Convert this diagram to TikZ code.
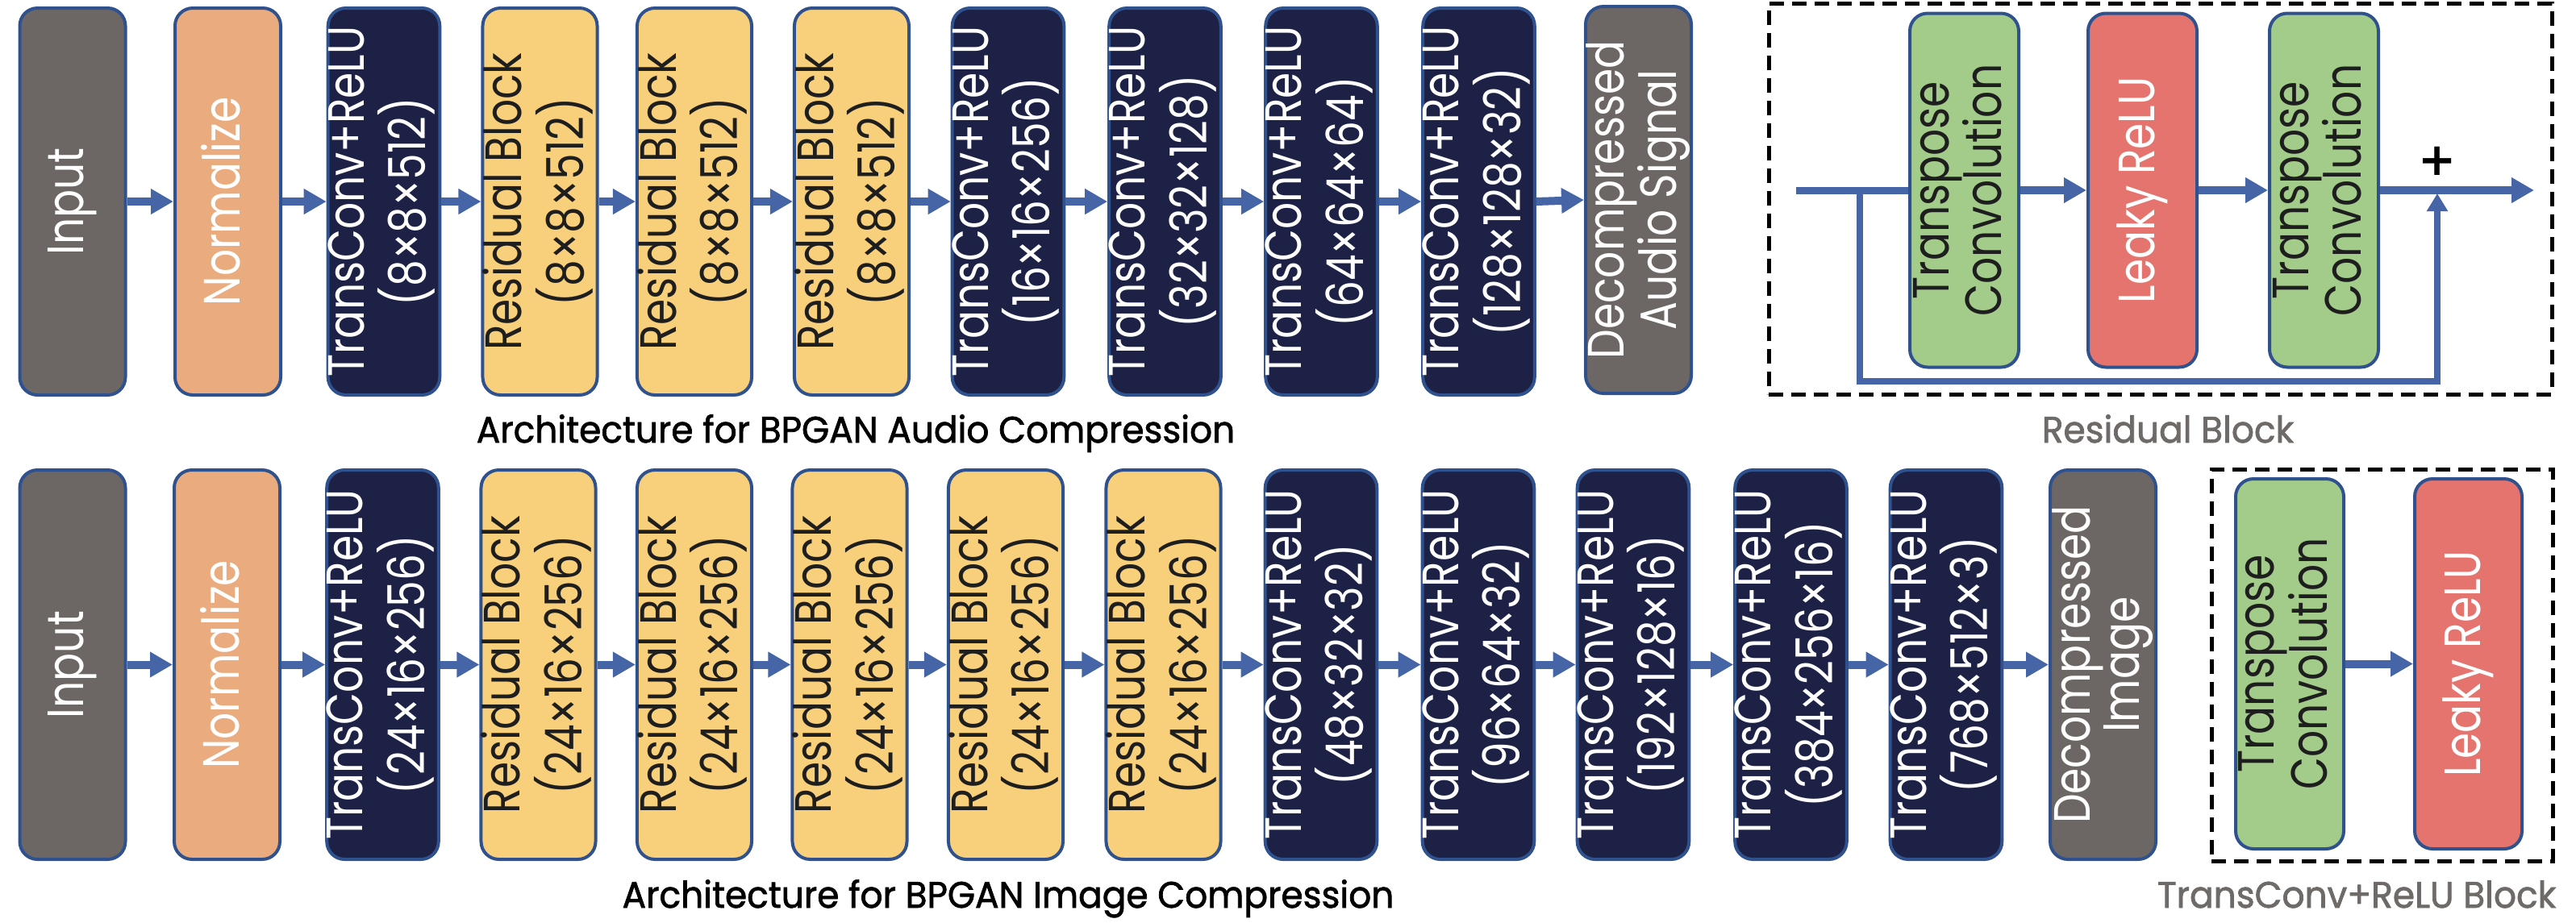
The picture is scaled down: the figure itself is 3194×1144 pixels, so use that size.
\documentclass[tikz,border=0pt]{standalone}
\usepackage{fontspec}
\usepackage{graphicx}
\usetikzlibrary{arrows.meta}
\newfontfamily\boxfont[FakeStretch=0.82]{Poppins}
\newfontfamily\capfont[FakeBold=1.6, FakeStretch=0.96]{Poppins}
\newfontfamily\plusfont{DejaVu Sans}
\definecolor{cgray}{HTML}{6C6764}
\definecolor{cpeach}{HTML}{EAAC7E}
\definecolor{cnavy}{HTML}{1D2146}
\definecolor{cyellow}{HTML}{F8D07B}
\definecolor{cgreen}{HTML}{A3CB89}
\definecolor{cred}{HTML}{E5746E}
\definecolor{cborder}{HTML}{2F528F}
\definecolor{carrow}{HTML}{4565A6}
\definecolor{ctext}{HTML}{1E1E1E}
\definecolor{clab}{HTML}{6E6A68}
\newcommand{\vtxt}[1]{\rotatebox{90}{\boxfont\fontsize{18}{16.5}\selectfont\begin{tabular}{@{}c@{}}#1\end{tabular}}}
\tikzset{
  blk/.style={draw=cborder, line width=0.4mm, rounded corners=2.2mm, minimum width=13.1mm, minimum height=48mm, inner sep=0pt},
  blkb/.style={blk, minimum height=48.3mm},
  inp/.style={fill=cgray, text=white},
  nrm/.style={fill=cpeach, text=white},
  tcv/.style={fill=cnavy, text=white},
  rsd/.style={fill=cyellow, text=ctext},
  grn/.style={fill=cgreen, text=ctext, minimum width=13.5mm},
  rdb/.style={fill=cred, text=white, minimum width=13.5mm},
  arr/.style={draw=carrow, line width=1mm, -{Triangle[length=2.8mm,width=3mm]}},
  rline/.style={draw=carrow, line width=0.9mm},
  skiparr/.style={draw=carrow, line width=0.8mm, -{Triangle[length=2.2mm,width=2.5mm]}},
  dashbox/.style={draw=black, line width=0.5mm, dash pattern=on 1.8mm off 1mm, inner sep=0pt},
  capt/.style={font={\capfont\fontsize{13}{15}\selectfont}, text=black, inner sep=0pt},
  glab/.style={font={\capfont\fontsize{13}{15}\selectfont}, text=clab, inner sep=0pt}
}
\begin{document}
\begin{tikzpicture}[x=0.1mm, y=-0.1mm]
\useasboundingbox (0,0) rectangle (3194,1144);
% ---------- top row ----------
\node[blk,inp] (a1) at (90,250) {\vtxt{Input}};
\node[blk,nrm] (a2) at (282.5,250) {\vtxt{Normalize}};
\node[blk,tcv] (a3) at (476,250) {\vtxt{TransConv+ReLU\\(8×8×512)}};
\node[blk,rsd] (a4) at (669.5,250) {\vtxt{Residual Block\\(8×8×512)}};
\node[blk,rsd] (a5) at (861,250) {\vtxt{Residual Block\\(8×8×512)}};
\node[blk,rsd] (a6) at (1056,250) {\vtxt{Residual Block\\(8×8×512)}};
\node[blk,tcv] (a7) at (1250,250) {\vtxt{TransConv+ReLU\\(16×16×256)}};
\node[blk,tcv] (a8) at (1444.5,250) {\vtxt{TransConv+ReLU\\(32×32×128)}};
\node[blk,tcv] (a9) at (1638.5,250) {\vtxt{TransConv+ReLU\\(64×64×64)}};
\node[blk,tcv] (a10) at (1833.5,250) {\vtxt{TransConv+ReLU\\(128×128×32)}};
\node[blk,inp] (a11) at (2031.5,248) {\vtxt{Decompressed\\Audio Signal}};
\foreach \i [evaluate=\i as \j using int(\i+1)] in {1,...,10}
  \draw[arr] (a\i.east) -- (a\j.west);
\node[capt, anchor=base] (cap1) at (1061,549) {Architecture for BPGAN Audio Compression};
% ---------- residual block panel ----------
\node[dashbox, minimum width=97.1mm, minimum height=48.5mm] (rpanel) at (2678.5,246.5) {};
\node[blk,grn, minimum height=43.9mm] (g1) at (2435.5,236) {\vtxt{Transpose\\Convolution}};
\node[blk,rdb, minimum height=43.9mm] (r1) at (2656.5,236) {\vtxt{Leaky ReLU}};
\node[blk,grn, minimum height=43.9mm] (g2) at (2881.5,236) {\vtxt{Transpose\\Convolution}};
\coordinate (rin) at (2227,236);
\coordinate (rsplit) at (2306,236);
\coordinate (rbot) at (3022,473);
\coordinate (rjoin) at (3022,240);
\coordinate (rout) at (3142,236);
\draw[rline] (rin) -- (g1.west);
\draw[arr] (g1.east) -- (r1.west);
\draw[arr] (r1.east) -- (g2.west);
\draw[arr] (g2.east) -- (rout);
\draw[skiparr] (rsplit) |- (rbot) -- (rjoin);
\node[font={\plusfont\bfseries\fontsize{16}{16}\selectfont}, inner sep=0pt] (plus) at (3022,200) {+};
\node[glab, anchor=base] (rlab) at (2688,549) {Residual Block};
% ---------- bottom row ----------
\node[blkb,inp] (b1) at (90,824.5) {\vtxt{Input}};
\node[blkb,nrm] (b2) at (281.5,824.5) {\vtxt{Normalize}};
\node[blkb,tcv] (b3) at (474.5,824.5) {\vtxt{TransConv+ReLU\\(24×16×256)}};
\node[blkb,rsd] (b4) at (667.5,824.5) {\vtxt{Residual Block\\(24×16×256)}};
\node[blkb,rsd] (b5) at (861,824.5) {\vtxt{Residual Block\\(24×16×256)}};
\node[blkb,rsd] (b6) at (1053.5,824.5) {\vtxt{Residual Block\\(24×16×256)}};
\node[blkb,rsd] (b7) at (1247,824.5) {\vtxt{Residual Block\\(24×16×256)}};
\node[blkb,rsd] (b8) at (1442.5,824.5) {\vtxt{Residual Block\\(24×16×256)}};
\node[blkb,tcv] (b9) at (1638,824.5) {\vtxt{TransConv+ReLU\\(48×32×32)}};
\node[blkb,tcv] (b10) at (1833,824.5) {\vtxt{TransConv+ReLU\\(96×64×32)}};
\node[blkb,tcv] (b11) at (2025,824.5) {\vtxt{TransConv+ReLU\\(192×128×16)}};
\node[blkb,tcv] (b12) at (2220.5,824.5) {\vtxt{TransConv+ReLU\\(384×256×16)}};
\node[blkb,tcv] (b13) at (2413,824.5) {\vtxt{TransConv+ReLU\\(768×512×3)}};
\node[blkb,inp] (b14) at (2607.5,824.5) {\vtxt{Decompressed\\Image}};
\foreach \i [evaluate=\i as \j using int(\i+1)] in {1,...,13}
  \draw[arr] (b\i.east) -- (b\j.west);
\node[capt, anchor=base] (cap2) at (1250,1126) {Architecture for BPGAN Image Compression};
% ---------- transconv+relu block panel ----------
\node[dashbox, minimum width=42.3mm, minimum height=48.6mm] (tpanel) at (2953.5,825) {};
\node[blk,grn, minimum width=13.4mm, minimum height=45.9mm] (g3) at (2839,823.5) {\vtxt{Transpose\\Convolution}};
\node[blk,rdb, minimum width=13.3mm, minimum height=45.9mm] (r3) at (3060.5,823.5) {\vtxt{Leaky ReLU}};
\draw[arr] (g3.east) -- (r3.west);
\node[glab, anchor=base east] (tlab) at (3170,1126) {TransConv+ReLU Block};
\end{tikzpicture}
\end{document}
